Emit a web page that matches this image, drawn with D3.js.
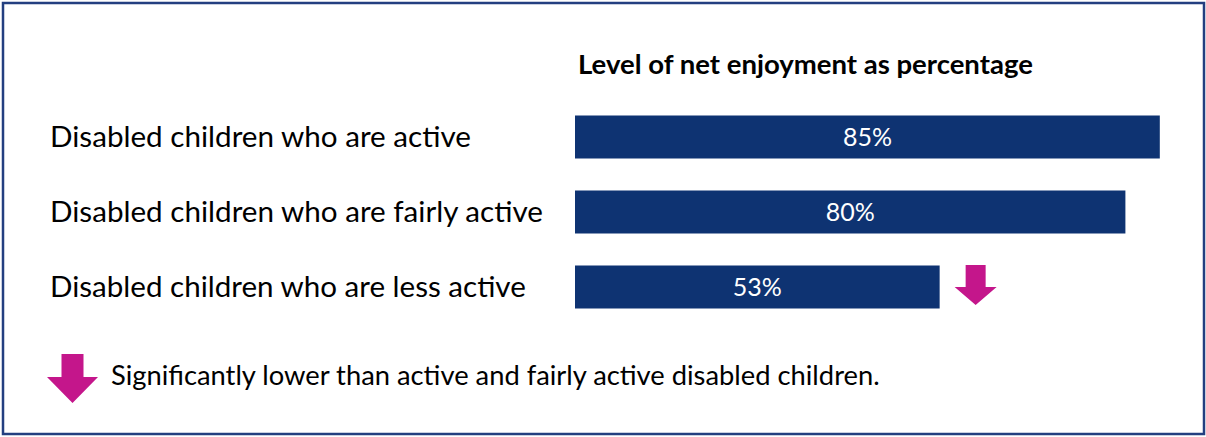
<!DOCTYPE html>
<html>
<head>
<meta charset="utf-8">
<script src="https://cdn.jsdelivr.net/npm/d3@7"></script>
<style>
  html, body { margin: 0; padding: 0; background: #fff; }
  svg { display: block; }
</style>
</head>
<body>
<svg id="chart" width="1206" height="437"></svg>
<script>
// Net enjoyment by activity level
const categories = [
  "Disabled children who are active",
  "Disabled children who are fairly active",
  "Disabled children who are less active"
];
const values = [85, 80, 53];
const valueLabels = ["85%", "80%", "53%"];
const significantlyLower = [false, false, true];
const title = "Level of net enjoyment as percentage";
const legendText = "Significantly lower than active and fairly active disabled children.";

const FONT = "Lato, 'Open Sans', sans-serif";
const BAR = "#0e3372";
const MAGENTA = "#c4168b";
const BORDER = "#233f80";

const svg = d3.select("#chart");

// outer frame
svg.append("rect")
  .attr("x", 3).attr("y", 3)
  .attr("width", 1201).attr("height", 431)
  .attr("fill", "#fff")
  .attr("stroke", BORDER)
  .attr("stroke-width", 2.5);

const x = d3.scaleLinear().domain([0, 100]).range([575, 1263]);
const y = d3.scalePoint().domain(categories).range([137, 287]);
const barH = 43;

// shrink/grow a text node's font size so it spans a given width
function fitWidth(sel, width) {
  sel.each(function () {
    const node = this;
    let fs = parseFloat(node.getAttribute("font-size"));
    const w = node.getComputedTextLength();
    if (w > 0) node.setAttribute("font-size", (fs * width / w).toFixed(2));
  });
}

// downward arrow centred on cx, starting at top
function arrowPath(cx, top, w, h, stemW, stemH) {
  const p = d3.path();
  p.moveTo(cx - stemW / 2, top);
  p.lineTo(cx + stemW / 2, top);
  p.lineTo(cx + stemW / 2, top + stemH);
  p.lineTo(cx + w / 2, top + stemH);
  p.lineTo(cx, top + h);
  p.lineTo(cx - w / 2, top + stemH);
  p.lineTo(cx - stemW / 2, top + stemH);
  p.closePath();
  return p.toString();
}

// title
svg.append("text")
  .attr("x", 578).attr("y", 74)
  .attr("font-family", FONT).attr("font-weight", "bold")
  .attr("font-size", 24).attr("fill", "#000")
  .text(title)
  .call(fitWidth, 455);

// row labels
const labelWidths = [421, 493, 476];
svg.selectAll("text.cat")
  .data(categories)
  .join("text")
  .attr("class", "cat")
  .attr("x", 50)
  .attr("y", d => y(d) + 10)
  .attr("font-family", FONT)
  .attr("font-size", 26)
  .attr("fill", "#000")
  .text(d => d)
  .each(function (d, i) { fitWidth(d3.select(this), labelWidths[i]); });

// bars
svg.selectAll("rect.bar")
  .data(values)
  .join("rect")
  .attr("class", "bar")
  .attr("x", x(0))
  .attr("y", (d, i) => y(categories[i]) - barH / 2)
  .attr("width", d => x(d) - x(0))
  .attr("height", barH)
  .attr("fill", BAR);

// value labels
svg.selectAll("text.val")
  .data(values)
  .join("text")
  .attr("class", "val")
  .attr("x", d => (x(0) + x(d)) / 2)
  .attr("y", (d, i) => y(categories[i]) + 9)
  .attr("text-anchor", "middle")
  .attr("font-family", FONT)
  .attr("font-size", 25)
  .attr("fill", "#fff")
  .text((d, i) => valueLabels[i]);

// significance markers
svg.selectAll("path.sig")
  .data(values.map((v, i) => ({ v, i })).filter(d => significantlyLower[d.i]))
  .join("path")
  .attr("class", "sig")
  .attr("d", d => arrowPath(x(d.v) + 36, y(categories[d.i]) - 22, 42, 40, 20, 22))
  .attr("fill", MAGENTA);

// legend
svg.append("path")
  .attr("d", arrowPath(72.5, 354, 51, 49, 22, 23))
  .attr("fill", MAGENTA);

svg.append("text")
  .attr("x", 111).attr("y", 385)
  .attr("font-family", FONT)
  .attr("font-size", 24)
  .attr("fill", "#000")
  .text(legendText)
  .call(fitWidth, 769);
</script>
</body>
</html>
